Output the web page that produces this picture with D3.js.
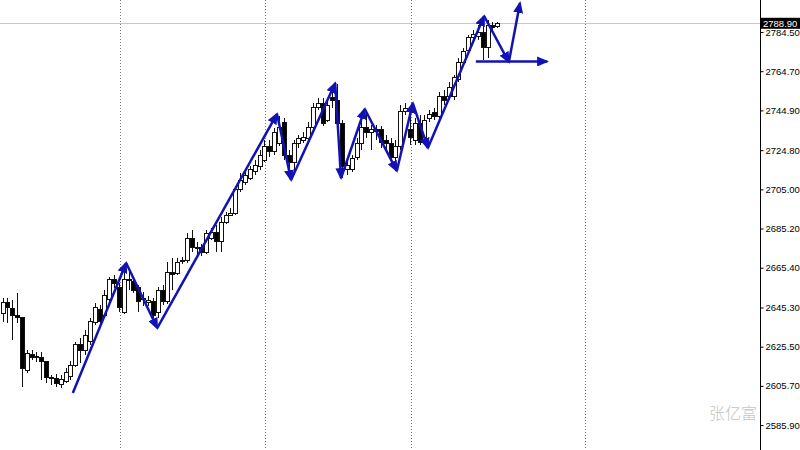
<!DOCTYPE html>
<html><head><meta charset="utf-8">
<script src="https://cdnjs.cloudflare.com/ajax/libs/d3/7.8.5/d3.min.js"></script>
<style>html,body{margin:0;padding:0;background:#fff;}svg{display:block;}</style>
</head><body><svg id="c" width="800" height="450"></svg>
<script>
const openP  = [2642.5,2647.6,2645.0,2641.5,2640.0,2613.7,2621.8,2620.3,2619.8,2617.8,2609.7,2609.2,2606.6,2607.7,2610.2,2616.2,2626.4,2623.8,2627.9,2637.5,2644.5,2641.5,2649.1,2659.2,2655.2,2643.0,2659.2,2658.2,2655.2,2650.1,2647.6,2648.1,2643.0,2654.1,2648.1,2663.2,2662.7,2668.3,2669.3,2680.4,2675.4,2675.4,2673.3,2680.4,2683.4,2678.4,2688.5,2692.0,2693.0,2704.7,2708.7,2710.7,2713.8,2716.3,2719.8,2726.4,2723.9,2728.4,2739.0,2722.3,2718.8,2728.4,2729.9,2730.9,2736.0,2746.6,2748.6,2740.0,2751.2,2750.1,2738.5,2714.8,2714.8,2721.3,2728.4,2736.0,2733.5,2735.0,2735.0,2729.9,2728.4,2721.3,2726.4,2744.1,2735.0,2729.9,2738.5,2731.4,2741.0,2743.6,2741.6,2751.7,2751.7,2751.7,2760.3,2769.3,2775.4,2781.5,2782.0,2784.5,2776.9,2788.0,2787.5];
const highP  = [2650.1,2650.1,2649.1,2652.6,2640.5,2623.8,2623.8,2622.8,2622.8,2618.3,2611.2,2611.7,2611.2,2614.7,2618.3,2627.9,2629.9,2633.9,2640.0,2647.6,2646.6,2654.1,2660.7,2661.7,2657.7,2666.3,2663.2,2661.2,2656.7,2653.1,2651.1,2650.1,2655.7,2656.7,2668.3,2670.3,2670.3,2670.8,2682.9,2684.5,2678.4,2677.4,2684.5,2685.5,2687.0,2691.0,2693.5,2695.6,2706.7,2713.3,2714.8,2716.8,2719.8,2724.9,2729.9,2729.9,2736.0,2742.1,2741.0,2724.9,2729.9,2732.5,2734.0,2739.0,2748.6,2751.2,2751.2,2750.1,2754.2,2758.2,2740.0,2719.8,2722.3,2730.9,2741.0,2744.1,2737.5,2737.5,2737.0,2732.5,2730.9,2729.9,2747.6,2748.6,2746.1,2741.0,2742.6,2742.6,2745.1,2746.1,2754.2,2755.2,2759.2,2762.8,2771.4,2776.4,2783.0,2785.5,2788.0,2790.6,2790.6,2789.6,2789.6];
const lowP   = [2637.9,2637.5,2628.9,2637.5,2605.1,2612.2,2618.8,2617.8,2608.7,2607.1,2606.1,2605.1,2604.6,2607.1,2608.7,2615.2,2617.3,2621.3,2626.4,2636.5,2636.5,2640.0,2647.6,2655.2,2643.0,2642.0,2654.1,2652.6,2643.0,2646.1,2646.1,2640.0,2640.0,2646.6,2647.1,2654.1,2661.7,2667.3,2667.8,2673.3,2671.3,2671.3,2672.3,2679.4,2673.3,2673.3,2687.5,2691.5,2692.0,2703.7,2707.2,2709.7,2712.2,2714.8,2718.8,2721.3,2722.3,2726.9,2719.8,2713.8,2712.2,2725.9,2728.4,2729.9,2735.0,2745.1,2737.0,2739.0,2746.1,2737.0,2710.7,2712.2,2713.8,2719.8,2724.9,2730.9,2724.9,2729.9,2725.9,2724.9,2717.3,2714.8,2724.9,2742.6,2727.4,2727.4,2727.4,2729.9,2739.0,2740.0,2740.0,2747.6,2750.1,2750.1,2759.2,2767.8,2774.4,2780.5,2780.5,2770.4,2771.4,2785.5,2786.5];
const closeP = [2647.6,2645.5,2641.5,2640.0,2614.7,2622.3,2619.8,2619.8,2617.8,2609.7,2609.2,2607.1,2608.7,2612.7,2616.2,2626.4,2623.8,2631.4,2638.0,2645.5,2638.0,2651.6,2659.2,2657.2,2645.5,2659.2,2658.7,2654.1,2648.1,2649.1,2648.6,2641.5,2654.1,2648.1,2663.2,2662.2,2667.8,2669.3,2680.4,2675.4,2674.9,2673.3,2682.9,2683.4,2678.4,2688.5,2692.0,2693.0,2704.7,2709.7,2712.2,2714.8,2716.8,2722.3,2726.4,2723.9,2733.5,2736.5,2722.3,2718.8,2728.4,2730.9,2731.4,2736.0,2746.6,2748.6,2738.5,2747.6,2750.1,2738.5,2716.3,2716.8,2720.8,2728.4,2736.5,2733.5,2735.0,2734.0,2728.9,2728.4,2721.3,2726.4,2744.1,2746.1,2731.4,2738.5,2728.9,2740.0,2742.6,2741.6,2751.7,2750.1,2756.7,2761.3,2769.3,2774.4,2781.5,2783.0,2784.5,2776.9,2788.0,2787.0,2788.9];

// zigzag wave points: [bar index, price]
const zigzagIdx   = [14.5, 25.5, 31.9, 56.6, 59.5, 68.6, 69.8, 74.7, 81.3, 84.6, 87.7, 99.3, 104.4, 106.7];
const zigzagPrice = [2602.1, 2667.8, 2634.9, 2743.1, 2709.7, 2758.7, 2710.7, 2745.6, 2714.3, 2748.6, 2725.9, 2792.6, 2769.3, 2799.2];
const levelIdx = [97.6, 112.3];
const levelPrice = 2769.6;

const gridIdx = [24.2, 54.1, 84.2, 120.1];
const tickValues = [2784.50, 2764.70, 2744.90, 2724.80, 2705.00, 2685.20, 2665.40, 2645.30, 2625.50, 2605.70, 2585.90];
const lastPrice = 2788.90;
const watermark = "张亿富";

const W = 800, H = 450, axisX = 760;
const svg = d3.select("#c");
const x = d3.scaleLinear().domain([0, 102]).range([2.5, 497.2]);
const y = d3.scaleLinear().domain([2573.3, 2800.67]).range([H, 0]);

// grid
svg.append("g").selectAll("line").data(gridIdx).join("line")
  .attr("x1", d => Math.round(x(d)) + 0.5).attr("x2", d => Math.round(x(d)) + 0.5)
  .attr("y1", 0).attr("y2", H)
  .attr("stroke", "#777").attr("stroke-width", 1).attr("stroke-dasharray", "1,2");

// last price line
svg.append("line").attr("x1", 0).attr("x2", axisX)
  .attr("y1", Math.round(y(lastPrice)) + 0.5).attr("y2", Math.round(y(lastPrice)) + 0.5)
  .attr("stroke", "#c8c8c8").attr("stroke-width", 1);

// candles
const bars = d3.range(openP.length).map(i => ({i, o: openP[i], h: highP[i], l: lowP[i], c: closeP[i]}));
const cg = svg.append("g").attr("shape-rendering", "crispEdges");
cg.selectAll("line").data(bars).join("line")
  .attr("x1", d => Math.round(x(d.i)) + 0.5).attr("x2", d => Math.round(x(d.i)) + 0.5)
  .attr("y1", d => y(d.h)).attr("y2", d => y(d.l))
  .attr("stroke", "#111").attr("stroke-width", 1);
cg.selectAll("rect").data(bars).join("rect")
  .attr("x", d => Math.round(x(d.i)) - 1.5)
  .attr("width", 4)
  .attr("y", d => y(Math.max(d.o, d.c)))
  .attr("height", d => Math.max(1, Math.abs(y(d.o) - y(d.c))))
  .attr("fill", d => d.c >= d.o ? "#fff" : "#000")
  .attr("stroke", "#111").attr("stroke-width", 1);

// arrow marker
const blue = "#1212b4";
svg.append("defs").append("marker").attr("id", "arr")
  .attr("markerUnits", "userSpaceOnUse").attr("markerWidth", 12).attr("markerHeight", 10)
  .attr("refX", 10).attr("refY", 5).attr("orient", "auto")
  .append("path").attr("d", "M0,0 L12,5 L0,10 Z").attr("fill", blue);

const zz = zigzagIdx.map((d, k) => [x(d), y(zigzagPrice[k])]);
const zg = svg.append("g");
for (let k = 0; k < zz.length - 1; k++) {
  zg.append("line").attr("x1", zz[k][0]).attr("y1", zz[k][1]).attr("x2", zz[k+1][0]).attr("y2", zz[k+1][1])
    .attr("stroke", blue).attr("stroke-width", 2.5).attr("marker-end", "url(#arr)");
}
zg.append("line").attr("x1", x(levelIdx[0])).attr("x2", x(levelIdx[1]))
  .attr("y1", y(levelPrice)).attr("y2", y(levelPrice))
  .attr("stroke", blue).attr("stroke-width", 2.5).attr("marker-end", "url(#arr)");

// axis
const ax = svg.append("g").attr("transform", `translate(${axisX + 0.5},0)`)
  .call(d3.axisRight(y).tickValues(tickValues).tickSize(3).tickPadding(2).tickFormat(d3.format(".2f")));
ax.select(".domain").attr("d", `M0,0V${H}`).attr("stroke", "#000");
ax.selectAll("text").attr("font-family", "'Liberation Sans', Arial, sans-serif").attr("font-size", 9.5).attr("fill", "#000");

// last price label
const ly = y(lastPrice);
svg.append("rect").attr("x", axisX + 1).attr("y", ly - 5.5).attr("width", 39).attr("height", 11).attr("fill", "#000");
svg.append("text").attr("x", axisX + 3).attr("y", ly + 3.5).text(d3.format(".2f")(lastPrice))
  .attr("font-family", "'Liberation Sans', Arial, sans-serif").attr("font-size", 9.5).attr("fill", "#fff");

// watermark
svg.append("text").attr("x", 757).attr("y", 419).attr("text-anchor", "end").text(watermark)
  .attr("font-family", "'Noto Sans CJK SC', sans-serif").attr("font-size", 16).attr("font-weight", 300).attr("fill", "#c4c4c4");
</script></body></html>
